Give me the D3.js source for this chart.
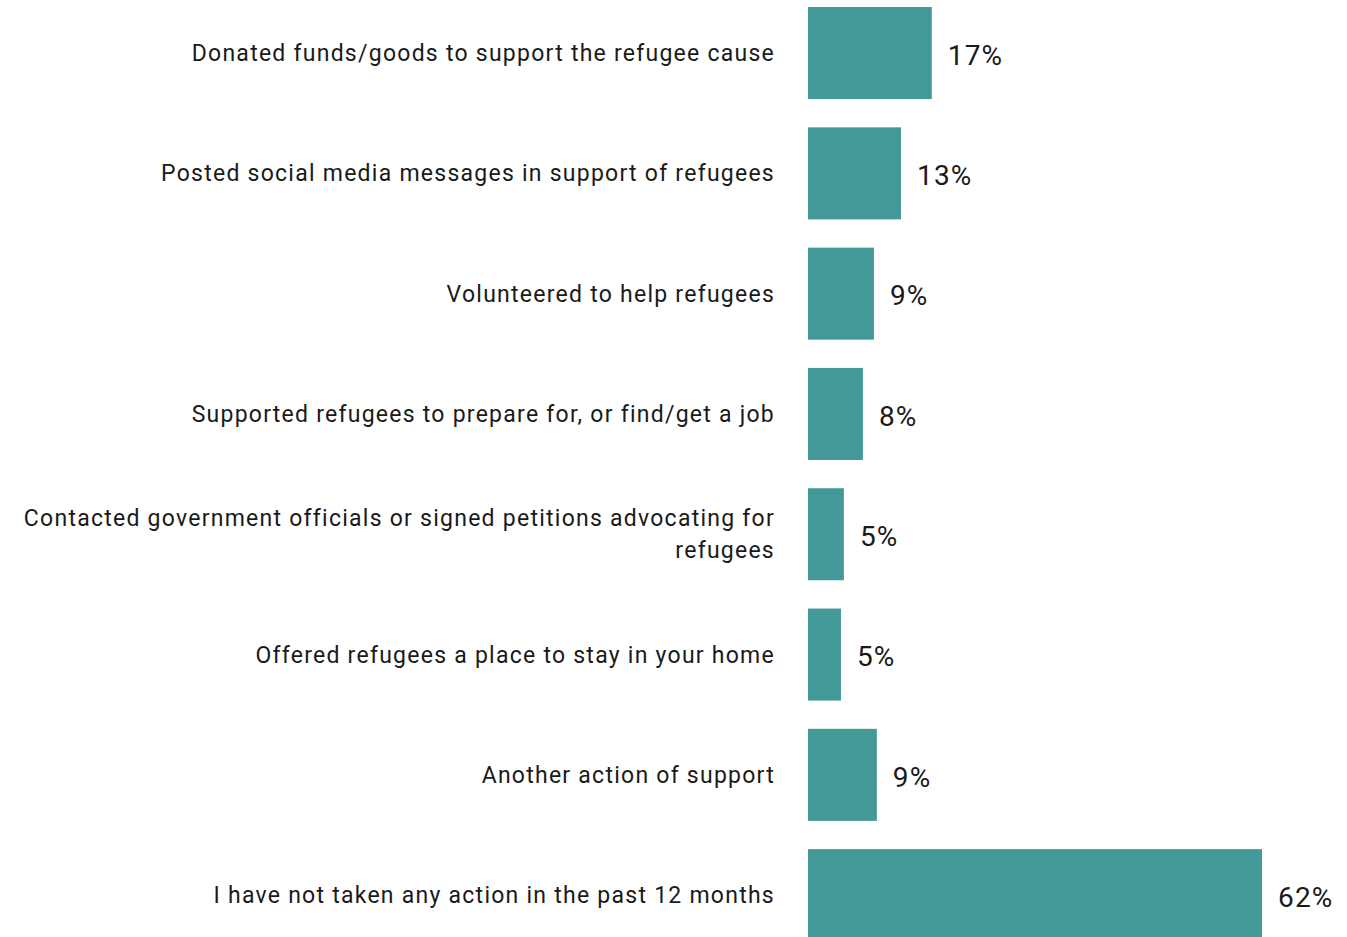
<!DOCTYPE html>
<html>
<head>
<meta charset="utf-8">
<script src="https://cdn.jsdelivr.net/npm/d3@7"></script>
<style>
  html, body { margin: 0; padding: 0; background: #fff; }
  svg { display: block; }
  .label { font-family: Roboto, "Noto Sans", sans-serif; font-size: 23px; letter-spacing: 1.25px; fill: #1a1a1a; }
  .value { font-family: Roboto, "Noto Sans", sans-serif; font-size: 28px; letter-spacing: 1.2px; fill: #1a1a1a; }
</style>
</head>
<body>
<svg id="chart" width="1347" height="937"></svg>
<script>
// survey answers, top to bottom
const categories = [
  ["Donated funds/goods to support the refugee cause"],
  ["Posted social media messages in support of refugees"],
  ["Volunteered to help refugees"],
  ["Supported refugees to prepare for, or find/get a job"],
  ["Contacted government officials or signed petitions advocating for", "refugees"],
  ["Offered refugees a place to stay in your home"],
  ["Another action of support"],
  ["I have not taken any action in the past 12 months"]
]
const values = [16.9, 12.7, 9.0, 7.5, 4.9, 4.5, 9.4, 62]
const valueLabels = ["17%", "13%", "9%", "8%", "5%", "5%", "9%", "62%"]

const svg = d3.select("#chart")
const x0 = 808

let xScale = d3.scaleLinear()
  .domain([0, 62])
  .range([x0, 1262])

let yScale = d3.scaleBand()
  .domain(d3.range(values.length))
  .range([-7.1, 955.3])
  .paddingInner(0.235)
  .paddingOuter(0.1175)

let rows = svg.selectAll(".row")
  .data(values.map((v, i) => ({v: v, lab: categories[i], txt: valueLabels[i], i: i})))
  .enter().append("g")
  .attr("class", "row")

rows.append("rect")
  .attr("x", xScale(0))
  .attr("y", d => yScale(d.i))
  .attr("width", d => xScale(d.v) - xScale(0))
  .attr("height", yScale.bandwidth())
  .attr("fill", "#429998")

rows.append("text")
  .attr("class", "value")
  .attr("x", d => xScale(d.v) + 16)
  .attr("y", d => yScale(d.i) + yScale.bandwidth() / 2 + 2)
  .attr("dy", "0.35em")
  .text(d => d.txt)

rows.each(function(d) {
  let g = d3.select(this)
  let mid = yScale(d.i) + yScale.bandwidth() / 2
  let n = d.lab.length
  d.lab.forEach((line, k) => {
    g.append("text")
      .attr("class", "label")
      .attr("text-anchor", "end")
      .attr("x", 775)
      .attr("y", mid + (k - (n - 1) / 2) * 32)
      .attr("dy", "0.35em")
      .text(line)
  })
})
</script>
</body>
</html>
